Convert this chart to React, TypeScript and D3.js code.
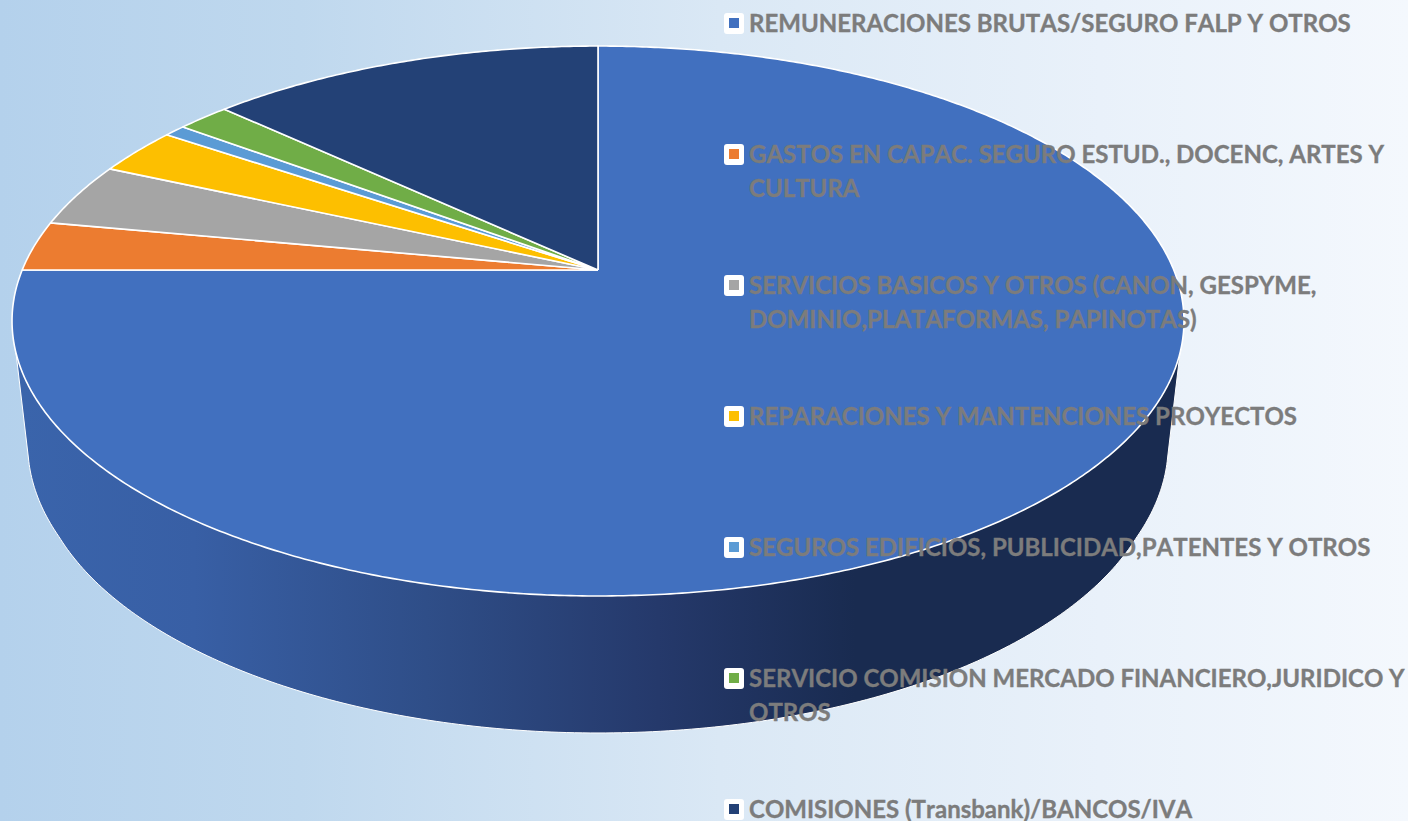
import React from "react";
import * as d3 from "d3";

const categories = [
  "REMUNERACIONES BRUTAS/SEGURO FALP Y OTROS",
  "GASTOS EN CAPAC. SEGURO ESTUD., DOCENC, ARTES Y CULTURA",
  "SERVICIOS BASICOS Y OTROS (CANON, GESPYME, DOMINIO,PLATAFORMAS, PAPINOTAS)",
  "REPARACIONES Y MANTENCIONES PROYECTOS",
  "SEGUROS EDIFICIOS, PUBLICIDAD,PATENTES Y OTROS",
  "SERVICIO COMISION MERCADO FINANCIERO,JURIDICO Y OTROS",
  "COMISIONES (Transbank)/BANCOS/IVA",
];
const legendLines = [
  ["REMUNERACIONES BRUTAS/SEGURO FALP Y OTROS"],
  ["GASTOS EN CAPAC. SEGURO ESTUD., DOCENC, ARTES Y", "CULTURA"],
  ["SERVICIOS BASICOS Y OTROS (CANON, GESPYME,", "DOMINIO,PLATAFORMAS, PAPINOTAS)"],
  ["REPARACIONES Y MANTENCIONES PROYECTOS"],
  ["SEGUROS EDIFICIOS, PUBLICIDAD,PATENTES Y OTROS"],
  ["SERVICIO COMISION MERCADO FINANCIERO,JURIDICO Y", "OTROS"],
  ["COMISIONES (Transbank)/BANCOS/IVA"],
];
const values = [75.0, 2.94, 3.78, 2.78, 0.72, 1.73, 13.05];
const colors = ["#4170BF", "#EC7C30", "#A5A5A5", "#FDBF00", "#5B9BD5", "#70AD47", "#234176"];

// Perspective disc: apex of the pie and projection constants
const W = 1408, H = 821;
const apexX = 598, apexY = 270, a = 575.8, b = 265.5, k = 0.1855, depth = 137;

const rim = (t: number, scale = 1, dy = 0): [number, number] => {
  const u = Math.sin(t), v = Math.cos(t), w = 1 + k * v;
  return [apexX + (a * scale * u) / w, apexY + dy - (b * v) / w];
};
const line = d3.line();
const samples = (t0: number, t1: number, n = 240) => d3.range(n + 1).map((i) => t0 + ((t1 - t0) * i) / n);

const pie = d3.pie<number>().sort(null).startAngle(0).endAngle(2 * Math.PI);
const slices = pie(values);

const slicePath = (s0: number, s1: number) => {
  const pts = samples(s0, s1, Math.max(8, Math.ceil((s1 - s0) * 120))).map((t) => rim(t));
  return line([[apexX, apexY], ...pts, [apexX, apexY]]) as string;
};

// The lower rim of the wall narrows slightly just below its widest point
const lowerScale = d3.scaleLinear().domain([-0.45, -k]).range([0.96, 0.972]).clamp(true);

const wallPath = () => {
  const tTop = Math.acos(-0.2955);
  const tLow = Math.acos(-k);
  const lower = samples(tLow, 2 * Math.PI - tLow).map((t) => rim(t, lowerScale(Math.cos(t)), depth));
  return line([rim(tTop), ...lower, rim(2 * Math.PI - tTop)]) as string;
};

const x01 = d3.scaleLinear().domain([0, W]).range([0, 1]);
const legendY = d3.scaleLinear().domain([0, 6]).range([23, 809]);

export default function App() {
  const font = "Lato, 'Open Sans', sans-serif";
  return (
    <svg width={W} height={H} style={{ position: "fixed", left: 0, top: 0, display: "block" }}>
      <defs>
        <linearGradient id="bg" x1="0" y1="0" x2="1" y2="0">
          <stop offset={x01(0)} stopColor="#B4D1EC" />
          <stop offset={x01(300)} stopColor="#BFD8EE" />
          <stop offset={x01(720)} stopColor="#DAE8F5" />
          <stop offset={x01(1100)} stopColor="#E9F1FA" />
          <stop offset={x01(1408)} stopColor="#F4F8FD" />
        </linearGradient>
        <linearGradient id="wall" gradientUnits="userSpaceOnUse" x1="20" y1="0" x2="1180" y2="0">
          <stop offset="0" stopColor="#3A64AB" />
          <stop offset="0.15" stopColor="#385FA5" />
          <stop offset="0.35" stopColor="#2F4E88" />
          <stop offset="0.55" stopColor="#25396B" />
          <stop offset="0.72" stopColor="#192B50" />
          <stop offset="1" stopColor="#192B50" />
        </linearGradient>
      </defs>
      <rect width={W} height={H} fill="url(#bg)" />
      <path d={wallPath()} fill="url(#wall)" stroke="#fff" strokeWidth={1} strokeLinejoin="round" />
      {slices.map((s, i) => (
        <path key={categories[i]} d={slicePath(s.startAngle, s.endAngle)} fill={colors[i]} stroke="#fff" strokeWidth={1.6} strokeLinejoin="round" />
      ))}
      {legendLines.map((lines, i) => {
        const y = legendY(i);
        return (
          <g key={categories[i]}>
            <rect x={724} y={y - 10} width={20} height={21} rx={3} fill="#fff" />
            <rect x={729} y={y - 5} width={10} height={10} fill={colors[i]} />
            {lines.map((t, j) => (
              <text key={t} x={749} y={y + 8.5 + j * 34} fontFamily={font} fontWeight={700} fontSize={24} fill="#7C7C7C" stroke="#7C7C7C" strokeWidth={0.35} style={{ fontKerning: "none" }}>
                {t}
              </text>
            ))}
          </g>
        );
      })}
    </svg>
  );
}
